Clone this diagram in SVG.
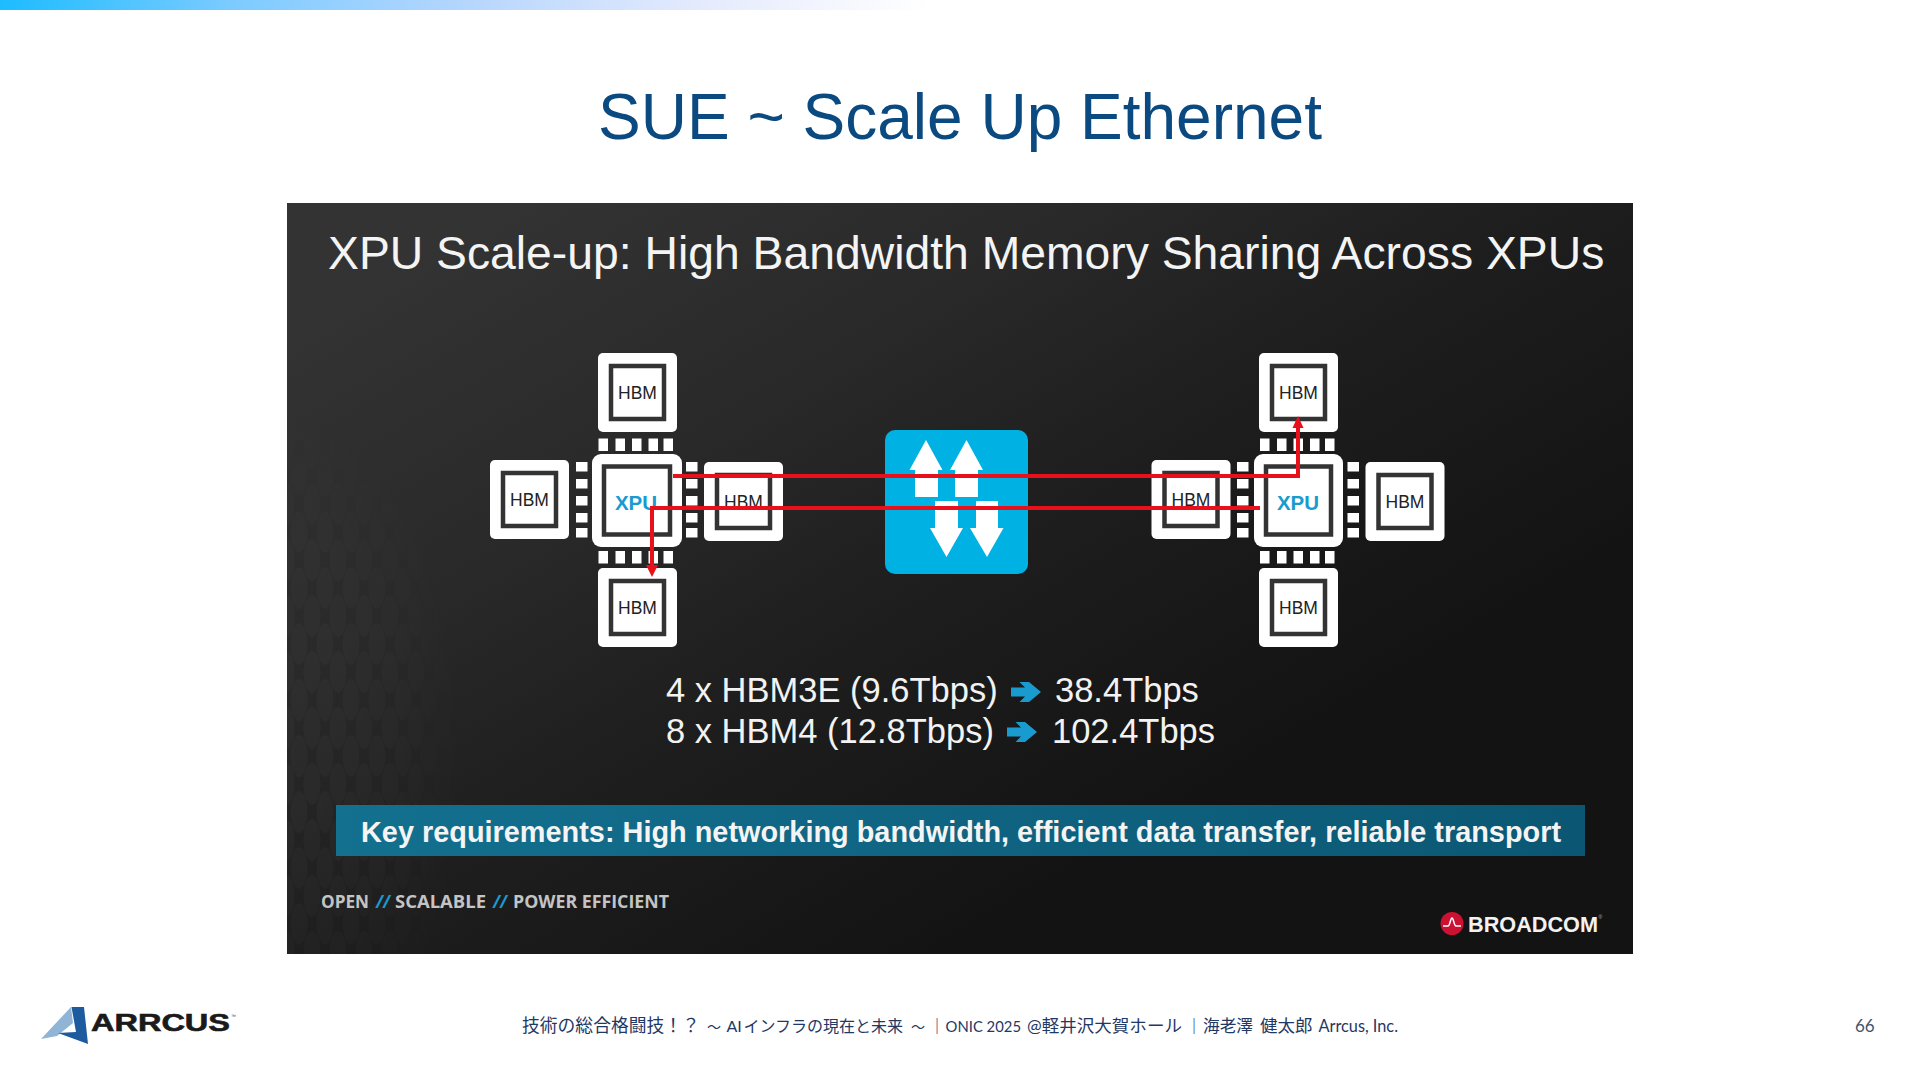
<svg xmlns="http://www.w3.org/2000/svg" xmlns:xlink="http://www.w3.org/1999/xlink" width="1920" height="1080" viewBox="0 0 1920 1080">
<style>
.sans{font-family:"Liberation Sans",Arial,sans-serif}
.hbmt{font-family:"Liberation Sans",Arial,sans-serif;font-size:17.5px;fill:#222;text-anchor:middle}
.xput{font-family:"Liberation Sans",Arial,sans-serif;font-size:20.5px;font-weight:bold;fill:#1a9bd0;text-anchor:middle}
.pad{fill:#fff}
.outer{fill:#fff}
.inner{fill:#fff;stroke:#333;stroke-width:4.5}
.wire{fill:none;stroke:#e8101a;stroke-width:4}
.head{fill:#e8101a}
.big{font-family:"Liberation Sans",Arial,sans-serif;font-size:34.5px;fill:#f2f2f2}
.tag{font-family:"Open Sans",sans-serif;font-size:18.5px;font-weight:bold;fill:#c4c4c4}
.tagb{fill:#1a9bd0;font-style:italic}
.foot{font-family:"Lato","Noto Sans CJK JP",sans-serif;font-size:17.8px;fill:#1f3864}
</style>
<defs>
<linearGradient id="topbar" x1="0" x2="1" y1="0" y2="0">
<stop offset="0" stop-color="#1cbcff"/><stop offset=".25" stop-color="#7ccbff"/><stop offset=".5" stop-color="#b5d6fd"/><stop offset=".75" stop-color="#e4eafd"/><stop offset="1" stop-color="#ffffff"/>
</linearGradient>
<linearGradient id="panel" gradientUnits="userSpaceOnUse" x1="500" y1="203" x2="950" y2="954">
<stop offset="0" stop-color="#333333"/><stop offset=".35" stop-color="#292929"/><stop offset=".62" stop-color="#1e1e1e"/><stop offset="1" stop-color="#131313"/>
</linearGradient>
<linearGradient id="bar" x1="0" x2="1" y1="0" y2="0">
<stop offset="0" stop-color="#13708f"/><stop offset="1" stop-color="#0b5773"/>
</linearGradient>
<pattern id="scales" patternUnits="userSpaceOnUse" width="26" height="56">
<ellipse cx="13" cy="28" rx="8.500" ry="21" fill="#fff"/>
<ellipse cx="0" cy="0" rx="8.500" ry="21" fill="#fff"/>
<ellipse cx="26" cy="0" rx="8.500" ry="21" fill="#fff"/>
<ellipse cx="0" cy="56" rx="8.500" ry="21" fill="#fff"/>
<ellipse cx="26" cy="56" rx="8.500" ry="21" fill="#fff"/>
</pattern>
<radialGradient id="fade" gradientUnits="userSpaceOnUse" cx="0" cy="0" r="1" gradientTransform="translate(290 760) scale(190 380)">
<stop offset="0" stop-color="#fff" stop-opacity=".03"/><stop offset=".6" stop-color="#fff" stop-opacity=".018"/><stop offset="1" stop-color="#fff" stop-opacity="0"/>
</radialGradient>
<mask id="fadeMask" maskUnits="userSpaceOnUse" x="287" y="203" width="400" height="751">
<rect x="287" y="203" width="400" height="751" fill="url(#fade)"/>
</mask>
<g id="hbmBox">
<rect class="outer" x="0" y="0" width="79" height="79" rx="5"/>
<rect class="inner" x="13" y="13" width="53" height="53"/>
</g>
<g id="padsH">
<rect class="pad" width="9.5" height="12.5" x="0"/><rect class="pad" width="9.5" height="12.5" x="17"/><rect class="pad" width="9.5" height="12.5" x="33.5"/><rect class="pad" width="9.5" height="12.5" x="50"/><rect class="pad" width="9.5" height="12.5" x="65"/>
</g>
<g id="padsV">
<rect class="pad" width="11.5" height="9.5" y="0"/><rect class="pad" width="11.5" height="9.5" y="17"/><rect class="pad" width="11.5" height="9.5" y="34"/><rect class="pad" width="11.5" height="9.5" y="51"/><rect class="pad" width="11.5" height="9.5" y="66"/>
</g>
<g id="chevron">
<path d="M0 5.500H14L8.500 0H18L30 10 18 20H8.500L14 14.500H0Z" fill="#1a9bd0"/>
</g>
</defs>

<rect width="1920" height="1080" fill="#ffffff"/>
<rect x="0" y="0" width="930" height="10" fill="url(#topbar)"/>
<text id="title" class="sans" x="960" y="139" font-size="64" fill="#0b4a80" text-anchor="middle">SUE ~ Scale Up Ethernet</text>

<g id="panel-bg">
<rect x="287" y="203" width="1346" height="751" fill="url(#panel)"/>
<rect x="287" y="203" width="400" height="751" fill="url(#scales)" mask="url(#fadeMask)"/>
</g>
<text id="panel-title" class="sans" x="328" y="269" font-size="46.3" fill="#f4f4f4">XPU Scale-up: High Bandwidth Memory Sharing Across XPUs</text>

<g id="xpu-left-hbm-top"><use xlink:href="#hbmBox" x="598" y="353"/><text class="hbmt" x="637.5" y="399">HBM</text></g>
<g id="xpu-left-hbm-left"><use xlink:href="#hbmBox" x="490" y="460"/><text class="hbmt" x="529.5" y="506">HBM</text></g>
<g id="xpu-left-hbm-right"><use xlink:href="#hbmBox" x="704" y="462"/><text class="hbmt" x="743.5" y="508">HBM</text></g>
<g id="xpu-left-hbm-bottom"><use xlink:href="#hbmBox" x="598" y="568"/><text class="hbmt" x="637.5" y="614">HBM</text></g>
<g id="xpu-left">
<use xlink:href="#padsH" x="598.5" y="438.5"/><use xlink:href="#padsH" x="598.5" y="551"/>
<use xlink:href="#padsV" x="576" y="462"/><use xlink:href="#padsV" x="686" y="462"/>
<rect class="outer" x="592" y="454" width="90" height="93" rx="9"/>
<rect class="inner" x="604" y="466.5" width="66" height="68"/>
<text class="xput" x="636" y="510">XPU</text>
</g>

<g id="switch">
<rect x="885" y="430" width="143" height="144" rx="10" fill="#00b2e3"/>
<path fill="#fff" d="M926 440L942.500 470H938V497H915V470H909.500Z"/>
<path fill="#fff" d="M966.500 440L983 470H978V497H955V470H950Z"/>
<path fill="#fff" d="M946.500 557L930 528H935V501H958V528H963Z"/>
<path fill="#fff" d="M987 557L970 528H976V501H998V528H1003.500Z"/>
</g>

<g id="xpu-right-hbm-top"><use xlink:href="#hbmBox" x="1259" y="353"/><text class="hbmt" x="1298.500" y="399">HBM</text></g>
<g id="xpu-right-hbm-left"><use xlink:href="#hbmBox" x="1151.500" y="460"/><text class="hbmt" x="1191" y="506">HBM</text></g>
<g id="xpu-right-hbm-right"><use xlink:href="#hbmBox" x="1365.500" y="462"/><text class="hbmt" x="1405" y="508">HBM</text></g>
<g id="xpu-right-hbm-bottom"><use xlink:href="#hbmBox" x="1259" y="568"/><text class="hbmt" x="1298.500" y="614">HBM</text></g>
<g id="xpu-right">
<use xlink:href="#padsH" x="1260" y="438.500"/><use xlink:href="#padsH" x="1260" y="551"/>
<use xlink:href="#padsV" x="1237" y="462"/><use xlink:href="#padsV" x="1347.500" y="462"/>
<rect class="outer" x="1254" y="454" width="89" height="93" rx="9"/>
<rect class="inner" x="1266" y="466.500" width="65" height="68"/>
<text class="xput" x="1298" y="510">XPU</text>
</g>

<g id="connectors">
<path class="wire" d="M673 476H1298V427"/>
<path class="head" d="M1298 416L1292.500 428H1303.500Z"/>
<path class="wire" d="M1260 508H652V566"/>
<path class="head" d="M652 577L646 565H658Z"/>
</g>

<g id="bandwidth">
<text class="big" x="666" y="702">4 x HBM3E (9.6Tbps)</text>
<use xlink:href="#chevron" x="1011" y="682"/>
<text class="big" x="1055" y="702">38.4Tbps</text>
<text class="big" x="666" y="743">8 x HBM4 (12.8Tbps)</text>
<use xlink:href="#chevron" x="1007" y="722"/>
<text class="big" x="1052" y="743">102.4Tbps</text>
</g>

<g id="requirements">
<rect x="336" y="805" width="1249" height="51" fill="url(#bar)"/>
<text class="sans" x="361" y="842" font-size="30" font-weight="bold" fill="#f4f4f4" textLength="1200" lengthAdjust="spacingAndGlyphs">Key requirements: High networking bandwidth, efficient data transfer, reliable transport</text>
</g>

<text id="tagline" class="tag" y="908"><tspan x="321" textLength="48" lengthAdjust="spacingAndGlyphs">OPEN</tspan><tspan class="tagb" x="376" textLength="14" lengthAdjust="spacingAndGlyphs">//</tspan><tspan x="395" textLength="91" lengthAdjust="spacingAndGlyphs">SCALABLE</tspan><tspan class="tagb" x="493" textLength="14" lengthAdjust="spacingAndGlyphs">//</tspan><tspan x="513" textLength="156" lengthAdjust="spacingAndGlyphs">POWER EFFICIENT</tspan></text>

<g id="broadcom">
<circle cx="1452" cy="923.500" r="11.500" fill="#cc1133"/>
<path d="M1443 926H1448C1450 926 1450.500 918 1452 918S1454 926 1456 926H1461" fill="none" stroke="#fff" stroke-width="1.500"/>
<text class="sans" x="1468" y="932" font-size="22.500" font-weight="bold" fill="#f2f2f2" textLength="130" lengthAdjust="spacingAndGlyphs">BROADCOM</text>
<text class="sans" x="1598.500" y="919" font-size="5" fill="#bbb">®</text>
</g>

<g id="arrcus">
<path d="M41 1039L71 1007L73 1023L57 1036Z" fill="#8fb4d6"/>
<path d="M71.500 1007H84L88 1044L58 1033L76 1032Z" fill="#1d5a9e"/>
<text class="sans" x="91" y="1031" font-size="24" font-weight="bold" fill="#1a1a1a" stroke="#1a1a1a" stroke-width=".6" textLength="139" lengthAdjust="spacingAndGlyphs">ARRCUS</text>
<text class="sans" x="231" y="1018" font-size="5" fill="#444">™</text>
</g>

<text id="footer" class="foot" y="1032"><tspan x="522">技術の総合格闘技！？</tspan><tspan x="707" style="font-size:14px">～</tspan><tspan x="726.500" style="font-size:16px">AI</tspan><tspan x="743.600" style="font-size:16px">インフラの現在と未来</tspan><tspan x="911" style="font-size:14px">～</tspan><tspan x="929" style="font-size:16px">｜</tspan><tspan x="945.600" style="font-size:16px" textLength="75.400" lengthAdjust="spacingAndGlyphs">ONIC 2025</tspan><tspan x="1027" style="font-size:17px" textLength="155" lengthAdjust="spacingAndGlyphs">@軽井沢大賀ホール</tspan><tspan x="1186" style="font-size:16px">｜</tspan><tspan x="1203" style="font-size:16.700px">海老澤</tspan><tspan x="1260" style="font-size:17.500px">健太郎</tspan><tspan x="1318.500" style="font-size:16.500px" textLength="79.500" lengthAdjust="spacingAndGlyphs">Arrcus, Inc.</tspan></text>
<text id="page" class="foot" x="1855" y="1032" style="fill:#44546a;font-size:17px">66</text>
</svg>
